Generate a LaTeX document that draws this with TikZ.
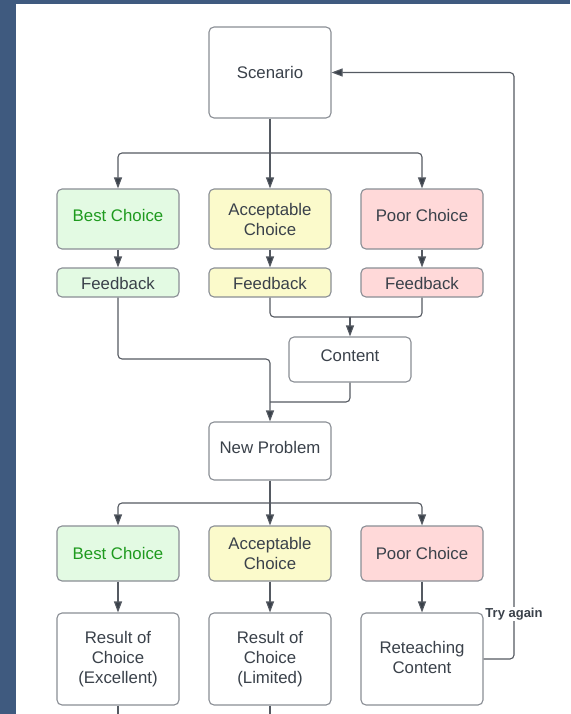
\documentclass[tikz,border=0pt]{standalone}
\usepackage{fontspec}
\setmainfont{Liberation Sans}
\usetikzlibrary{arrows.meta}
\definecolor{txt}{HTML}{3A414A}
\definecolor{boxline}{HTML}{8A8E95}
\definecolor{conn}{HTML}{555A62}
\definecolor{bestfill}{HTML}{E3FAE3}
\definecolor{besttxt}{HTML}{1E9A1E}
\definecolor{accfill}{HTML}{FBFACB}
\definecolor{poorfill}{HTML}{FFD9D9}
\definecolor{backdrop}{HTML}{3F5A7F}
\begin{document}
\begin{tikzpicture}[x=1pt,y=-1pt,
    font=\fontsize{16.8}{20}\selectfont, text=txt,
    box/.style={draw=boxline,line width=1.1pt,rounded corners=5pt,fill=white,
                minimum width=122pt,align=center,inner sep=0pt},
    best/.style={box,fill=bestfill,text=besttxt},
    acc/.style={box,fill=accfill},
    poor/.style={box,fill=poorfill},
    raised/.style={text height=12pt,text depth=8pt},
    lowered/.style={text height=17pt,text depth=3.5pt},
    wire/.style={draw=conn,line width=1.1pt,rounded corners=4pt},
    arr/.style={wire,-{Triangle[length=11pt,width=8pt,fill=txt]}},
    lbl/.style={fill=white,inner sep=1pt,font=\fontsize{13}{15}\selectfont\bfseries}]
                    \useasboundingbox (0,0) rectangle (570,714);
                    \fill[backdrop] (0,0) rectangle (570,714);
                    \fill[white] (16,4) rectangle (570,714);

                    \node[box,minimum height=91pt] (scen) at (270,72.5){Scenario};
                    \node[best,raised,minimum height=60pt] (best1) at (118,219){Best Choice};
                    \node[acc,minimum height=60pt] (acc1) at (270,219){Acceptable\\Choice};
                    \node[poor,raised,minimum height=60pt] (poor1) at (422,219){Poor Choice};
                    \node[best,lowered,minimum height=29pt,text=txt] (fb1) at (118,282.5){Feedback};
                    \node[acc,lowered,minimum height=29pt] (fb2) at (270,282.5){Feedback};
                    \node[poor,lowered,minimum height=29pt] (fb3) at (422,282.5){Feedback};
                    \node[box,raised,minimum height=45pt] (cont) at (350,359.5){Content};
                    \node[box,raised,minimum height=58pt] (newp) at (270,451){New Problem};
                    \node[best,minimum height=55pt] (best2) at (118,553.5){Best Choice};
                    \node[acc,minimum height=55pt] (acc2) at (270,553.5){Acceptable\\Choice};
                    \node[poor,minimum height=55pt] (poor2) at (422,553.5){Poor Choice};
                    \node[box,minimum height=92pt] (res1) at (118,659){Result of\\Choice\\(Excellent)};
                    \node[box,minimum height=92pt] (res2) at (270,659){Result of\\Choice\\(Limited)};
                    \node[box,minimum height=92pt] (retch) at (422,659){Reteaching\\Content\vphantom{()}\\[-17pt]};

                    \coordinate (sp1) at (270,153);
                    \coordinate (mg1) at (350,317);
                    \coordinate (j1) at (270,359);
                    \coordinate (j2) at (270,402);
                    \coordinate (sp2) at (270,503);
                    \coordinate (bk) at (514,614);
                    \coordinate (e1) at (118,714);
                    \coordinate (e2) at (270,714);

                    \draw[wire] (scen) -- (sp1);
                    \draw[arr] (sp1) -| (best1);
                    \draw[arr] (sp1) -- (acc1);
                    \draw[arr] (sp1) -| (poor1);
                    \draw[arr] (best1) -- (fb1);
                    \draw[arr] (acc1) -- (fb2);
                    \draw[arr] (poor1) -- (fb3);
                    \draw[wire] (fb2) |- (mg1);
                    \draw[wire] (fb3) |- (mg1);
                    \draw[arr] (mg1) -- (cont);
                    \draw[arr] (fb1) |- (j1) -- (newp);
                    \draw[wire] (cont) |- (j2);
                    \draw[wire] (newp) -- (sp2);
                    \draw[arr] (sp2) -| (best2);
                    \draw[arr] (sp2) -- (acc2);
                    \draw[arr] (sp2) -| (poor2);
                    \draw[arr] (best2) -- (res1);
                    \draw[arr] (acc2) -- (res2);
                    \draw[arr] (poor2) -- (retch);
                    \draw[arr] (retch) -| (bk) |- (scen);
                    \draw[wire] (res1) -- (e1);
                    \draw[wire] (res2) -- (e2);

                    \node[lbl] (try) at (bk){Try again};
                \end{tikzpicture}
\end{document}
